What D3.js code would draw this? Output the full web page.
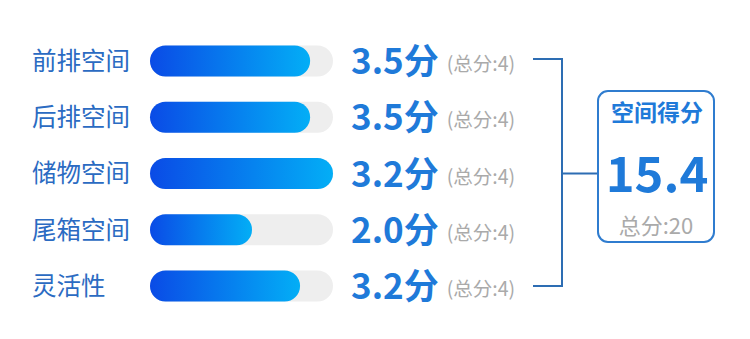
<!DOCTYPE html>
<html><head><meta charset="utf-8">
<script src="https://cdn.jsdelivr.net/npm/d3@7/dist/d3.min.js"></script>
<style>body{margin:0;background:#fff}svg{display:block}</style>
</head><body>
<svg id="c" width="750" height="339"></svg>
<script>
const categories = ["前排空间","后排空间","储物空间","尾箱空间","灵活性"];
const scores = [3.5, 3.5, 3.2, 2.0, 3.2];
const barLengths = [3.5, 3.5, 4.0, 2.23, 3.28]; // drawn bar lengths
const maxScore = 4;
const totalScore = 15.4;
const totalMax = 20;
const totalTitle = "空间得分";

const font = "'Noto Sans CJK SC','Noto Sans',sans-serif";
const svg = d3.select("#c");
const defs = svg.append("defs");

const x = d3.scaleLinear().domain([0, maxScore]).range([150, 333]);
const y = d3.scalePoint().domain(categories).range([61, 286]);
const barH = 31;

categories.forEach((c, i) => {
  const g = defs.append("linearGradient").attr("id", "g" + i)
    .attr("x1", "0").attr("x2", "1").attr("y1", "0").attr("y2", "0");
  g.append("stop").attr("offset", "0").attr("stop-color", "#0a4be6");
  g.append("stop").attr("offset", "1").attr("stop-color", "#03aef6");
});

const rows = svg.selectAll("g.row").data(categories).join("g").attr("class", "row");

rows.append("text")
  .attr("x", 32).attr("y", d => y(d))
  .attr("dy", "0.36em")
  .attr("font-family", font).attr("font-size", 24.5)
  .attr("fill", "#2b6bc2")
  .text(d => d);

rows.append("rect")
  .attr("x", x(0)).attr("y", d => y(d) - barH / 2)
  .attr("width", x(maxScore) - x(0)).attr("height", barH)
  .attr("rx", barH / 2).attr("fill", "#eeeeee");

rows.append("rect")
  .attr("x", x(0)).attr("y", d => y(d) - barH / 2)
  .attr("width", (d, i) => x(barLengths[i]) - x(0)).attr("height", barH)
  .attr("rx", barH / 2).attr("fill", (d, i) => `url(#g${i})`);

const vt = rows.append("text")
  .attr("x", 351).attr("y", d => y(d) + 13)
  .attr("font-family", font);
vt.append("tspan")
  .attr("font-size", 35).attr("font-weight", "bold").attr("fill", "#1f7ad9")
  .text((d, i) => scores[i].toFixed(1) + "分");
vt.append("tspan")
  .attr("dx", 8).attr("font-size", 19.5).attr("fill", "#aaaaaa")
  .attr("dy", -3)
  .text(`(总分:${maxScore})`);

// bracket
const first = y(categories[0]), last = y(categories[categories.length - 1]);
const mid = (first + last) / 2;
svg.append("path")
  .attr("d", `M533,${first - 2}H562V${last}H533M562,${mid}H598`)
  .attr("fill", "none").attr("stroke", "#2d6db3").attr("stroke-width", 2);

// total box
svg.append("rect")
  .attr("x", 598).attr("y", 91).attr("width", 116).attr("height", 151)
  .attr("rx", 10).attr("fill", "#fff")
  .attr("stroke", "#2f7ccf").attr("stroke-width", 2);
svg.append("text")
  .attr("x", 657).attr("y", 121).attr("text-anchor", "middle")
  .attr("font-family", font).attr("font-size", 23).attr("font-weight", "bold")
  .attr("fill", "#1f7ad9").text(totalTitle);
svg.append("text")
  .attr("x", 657).attr("y", 192).attr("text-anchor", "middle")
  .attr("font-family", font).attr("font-size", 49).attr("font-weight", "bold")
  .attr("fill", "#1f7ad9").text(totalScore.toFixed(1));
svg.append("text")
  .attr("x", 656).attr("y", 234).attr("text-anchor", "middle")
  .attr("font-family", font).attr("font-size", 22)
  .attr("fill", "#aaaaaa").text(`总分:${totalMax}`);
</script>
</body></html>
